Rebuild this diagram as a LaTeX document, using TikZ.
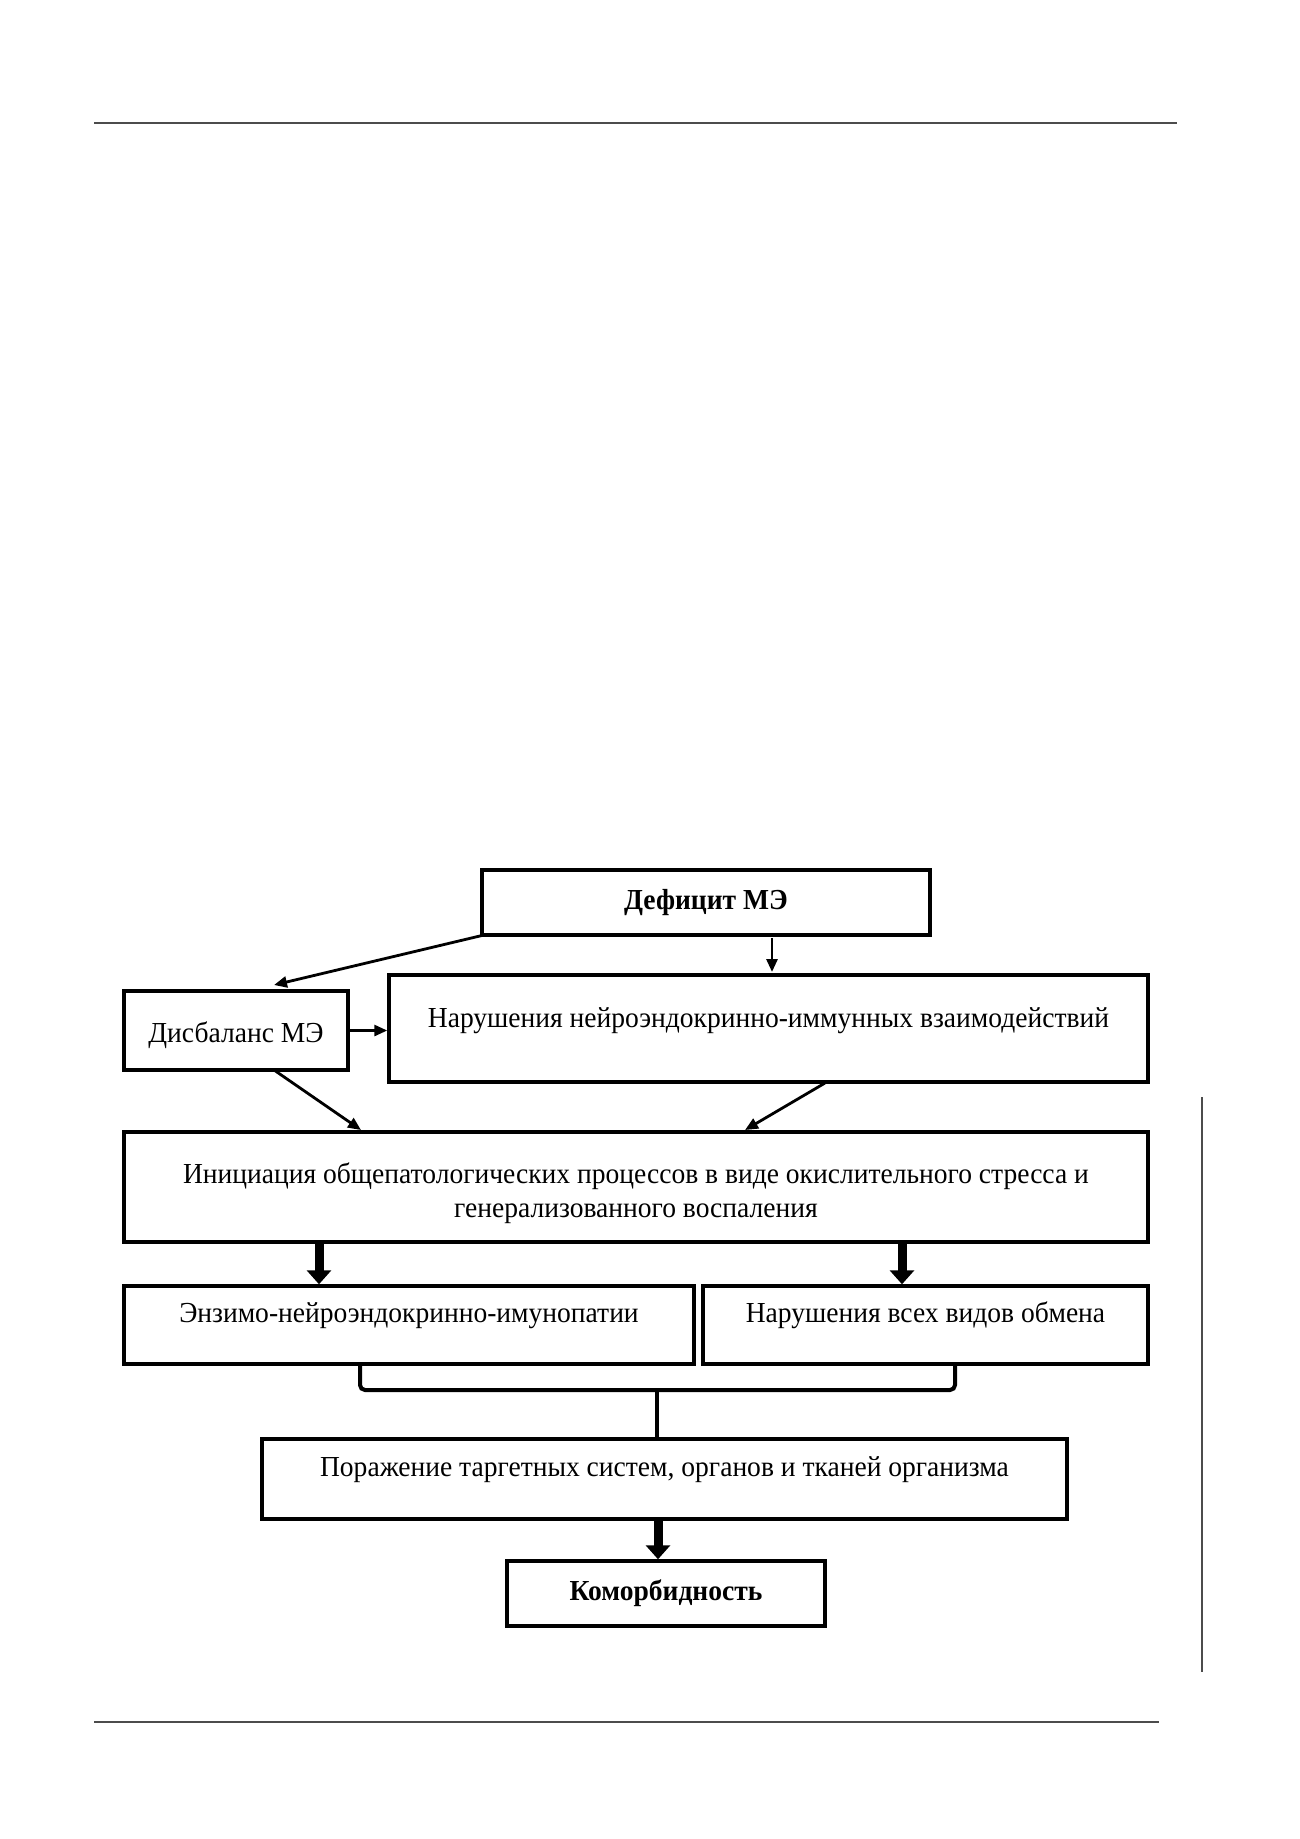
\documentclass[tikz,border=0pt]{standalone}
\usepackage{fontspec}
\setmainfont{Liberation Serif}[FakeStretch=0.95]
\usetikzlibrary{arrows.meta}
\begin{document}
\begin{tikzpicture}[x=1pt,y=-1pt,
  box/.style={draw=black,line width=3.5pt,rectangle,inner sep=0pt,align=center,font=\fontsize{29}{34}\selectfont},
  up/.style={text height=20pt,text depth={20pt+#1}},
  thin/.style={line width=2.8pt,-{Triangle[length=13pt,width=11pt]}},
  thick/.style={line width=9pt,-{Triangle[length=14pt,width=24pt]}},
  rule/.style={draw=black!70,line width=2pt}]
\useasboundingbox (0,0) rectangle (1300,1839);
\coordinate (tl1) at (94,123); \coordinate (tl2) at (1177,123);
\draw[rule] (tl1) -- (tl2);
\coordinate (bl1) at (94,1722); \coordinate (bl2) at (1159,1722);
\draw[rule,line width=1.8pt] (bl1) -- (bl2);
\coordinate (vl1) at (1202,1097); \coordinate (vl2) at (1202,1672);
\draw[rule,line width=1.5pt] (vl1) -- (vl2);

\node[box,minimum width=448pt,minimum height=65pt,font=\fontsize{29}{34}\selectfont\bfseries] (def) at (706,902.5) {Дефицит МЭ};
\node[box,text height=29pt,text depth=6pt,minimum width=224pt,minimum height=79pt] (dis) at (236,1030.5) {Дисбаланс МЭ};
\node[box,up=2pt,minimum width=759pt,minimum height=107pt] (nei) at (768.5,1028.5) {Нарушения нейроэндокринно-иммунных взаимодействий};
\node[box,minimum width=1024pt,minimum height=110pt] (ini) at (636,1187) {\rule{0pt}{34pt}Инициация общепатологических процессов в виде окислительного стресса и\\генерализованного воспаления};
\node[box,up=6pt,minimum width=570pt,minimum height=78pt] (enz) at (409,1325) {Энзимо-нейроэндокринно-имунопатии};
\node[box,up=6pt,minimum width=445pt,minimum height=78pt] (obm) at (925.5,1325) {Нарушения всех видов обмена};
\node[box,up=6pt,minimum width=805pt,minimum height=80pt] (por) at (664.5,1479) {Поражение таргетных систем, органов и тканей организма};
\node[box,minimum width=318pt,minimum height=65pt,font=\fontsize{29}{34}\selectfont\bfseries] (kom) at (666,1593.5) {Коморбидность};

\coordinate (a1s) at (484,935); \coordinate (a1e) at (274,985);
\draw[thin] (a1s) -- (a1e);
\coordinate (a2s) at (772,938); \coordinate (a2e) at (772,972);
\draw[thin] (a2s) -- (a2e);
\draw[thin] (dis.east) -- (nei.west |- dis.east);
\coordinate (a4s) at (274,1070); \coordinate (a4e) at (361,1130);
\draw[thin] (a4s) -- (a4e);
\coordinate (a5s) at (825,1083); \coordinate (a5e) at (745,1130);
\draw[thin] (a5s) -- (a5e);

\draw[thick] (ini.south -| 319,0) -- (enz.north -| 319,0);
\draw[thick] (ini.south -| 902,0) -- (obm.north -| 902,0);

\coordinate (br) at (657,1390);
\draw[line width=4pt,rounded corners=5pt] (enz.south -| 360,0) -- (360,1390) -- (955,1390) -- (obm.south -| 955,0);
\draw[line width=4pt] (br) -- (por.north -| br);

\draw[thick] (por.south -| 658,0) -- (kom.north -| 658,0);
\end{tikzpicture}
\end{document}
